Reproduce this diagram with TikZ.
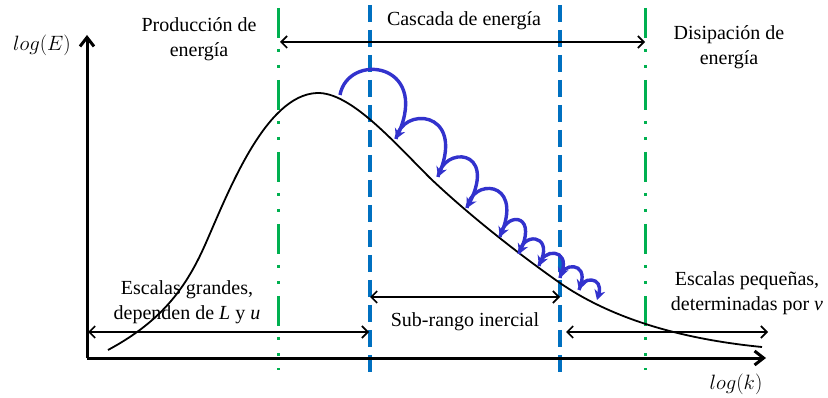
\documentclass[tikz,border=0pt]{standalone}
\usepackage{fontspec}
\setmainfont{Liberation Serif}
\usetikzlibrary{arrows.meta}
\definecolor{cgreen}{RGB}{0,176,80}
\definecolor{cblue}{RGB}{0,112,192}
\definecolor{cloop}{RGB}{50,50,205}
\begin{document}
\begin{tikzpicture}[x=1pt,y=-1pt,
  txt/.style={font=\fontsize{20}{25}\selectfont, align=center, inner sep=0pt},
  axis/.style={line width=3pt, -{Straight Barb[length=9pt,width=14pt,line width=3pt]}},
  dbl/.style={line width=1.6pt, {Straight Barb[length=6pt,width=12pt]}-{Straight Barb[length=6pt,width=12pt]}},
  gline/.style={cgreen, line width=3pt, dash pattern=on 30pt off 11pt on 3pt off 13pt on 3pt off 12pt},
  bline/.style={cblue, line width=3.5pt, dash pattern=on 17pt off 8pt},
  loopa/.style={cloop, line width=3.4pt, -{Stealth[length=10pt,width=11pt]}},
  curve/.style={line width=1.8pt}]
\useasboundingbox (0,0) rectangle (828,398);

% vertical separators
\coordinate (g1t) at (278,8);  \coordinate (g1b) at (278,370);
\coordinate (g2t) at (645,8);  \coordinate (g2b) at (645,370);
\coordinate (b1t) at (370,5);  \coordinate (b1b) at (370,378);
\coordinate (b2t) at (560,5);  \coordinate (b2b) at (560,378);
\draw[gline] (g1t) -- (g1b);
\draw[gline] (g2t) -- (g2b);
\draw[bline] (b1t) -- (b1b);
\draw[bline] (b2t) -- (b2b);

% axes
\coordinate (O) at (87,358);
\coordinate (ytop) at (87,35);
\coordinate (xend) at (766,358);
\draw[axis] (O) -- (ytop);
\draw[axis] (O) -- (xend);

% spectrum curve
\coordinate (k0) at (108,350);
\coordinate (k1) at (205,245);
\coordinate (k2) at (317,93);
\coordinate (k3) at (430,178);
\coordinate (k4) at (560,283);
\coordinate (k5) at (762,347);
\draw[curve] (k0) .. controls (160,322) and (185,290) .. (k1)
  .. controls (228,193) and (265,95) .. (k2)
  .. controls (350,92) and (392,140) .. (k3)
  .. controls (470,216) and (520,255) .. (k4)
  .. controls (605,314) and (670,338) .. (k5);

% range arrows
\coordinate (c1) at (280,42); \coordinate (c2) at (645,42);
\draw[dbl] (c1) -- (c2);
\coordinate (s1) at (370,297); \coordinate (s2) at (560,297);
\draw[dbl] (s1) -- (s2);
\coordinate (l1) at (88,332); \coordinate (l2) at (369,332);
\draw[dbl] (l1) -- (l2);
\coordinate (r1) at (566,332); \coordinate (r2) at (768,332);
\draw[dbl] (r1) -- (r2);

% cascade loops
\coordinate (p0) at (340,95);
\coordinate (p1) at (396,139);
\coordinate (p2) at (438,177);
\coordinate (p3) at (467,208);
\coordinate (p4) at (500,237);
\coordinate (p5) at (519,254);
\coordinate (p6) at (539,266);
\coordinate (p7) at (560,278);
\coordinate (p8) at (579,290);
\coordinate (p9) at (597,300);
\draw[loopa] (p0) .. controls (348,52) and (430,62) .. (p1);
\draw[loopa] (p1) .. controls (402,106) and (464,110) .. (p2);
\draw[loopa] (p2) .. controls (443,146) and (497,148) .. (p3);
\draw[loopa] (p3) .. controls (472,178) and (522,180) .. (p4);
\draw[loopa] (p4) .. controls (504,212) and (537,212) .. (p5);
\draw[loopa] (p5) .. controls (522,232) and (552,234) .. (p6);
\draw[loopa] (p6) .. controls (542,248) and (570,248) .. (p7);
\draw[loopa] (p7) .. controls (562,262) and (588,262) .. (p8);
\draw[loopa] (p8) .. controls (581,276) and (604,276) .. (p9);

% labels
\node[txt] (logE) at (42,45) {$log(E)$};
\node[txt] (logk) at (736,384) {$log(k)$};
\node[txt] (prod) at (199,39) {Producción de\\energía};
\node[txt] (casc) at (464,21) {Cascada de energía};
\node[txt] (disip) at (729,47) {Disipación de\\energía};
\node[txt] (grandes) at (187,302) {Escalas grandes,\\dependen de \textit{L} y \textit{u}};
\node[txt] (sub) at (465,322) {Sub-rango inercial};
\node[txt] (peq) at (747,293) {Escalas pequeñas,\\determinadas por \textit{ν}};
\end{tikzpicture}
\end{document}
